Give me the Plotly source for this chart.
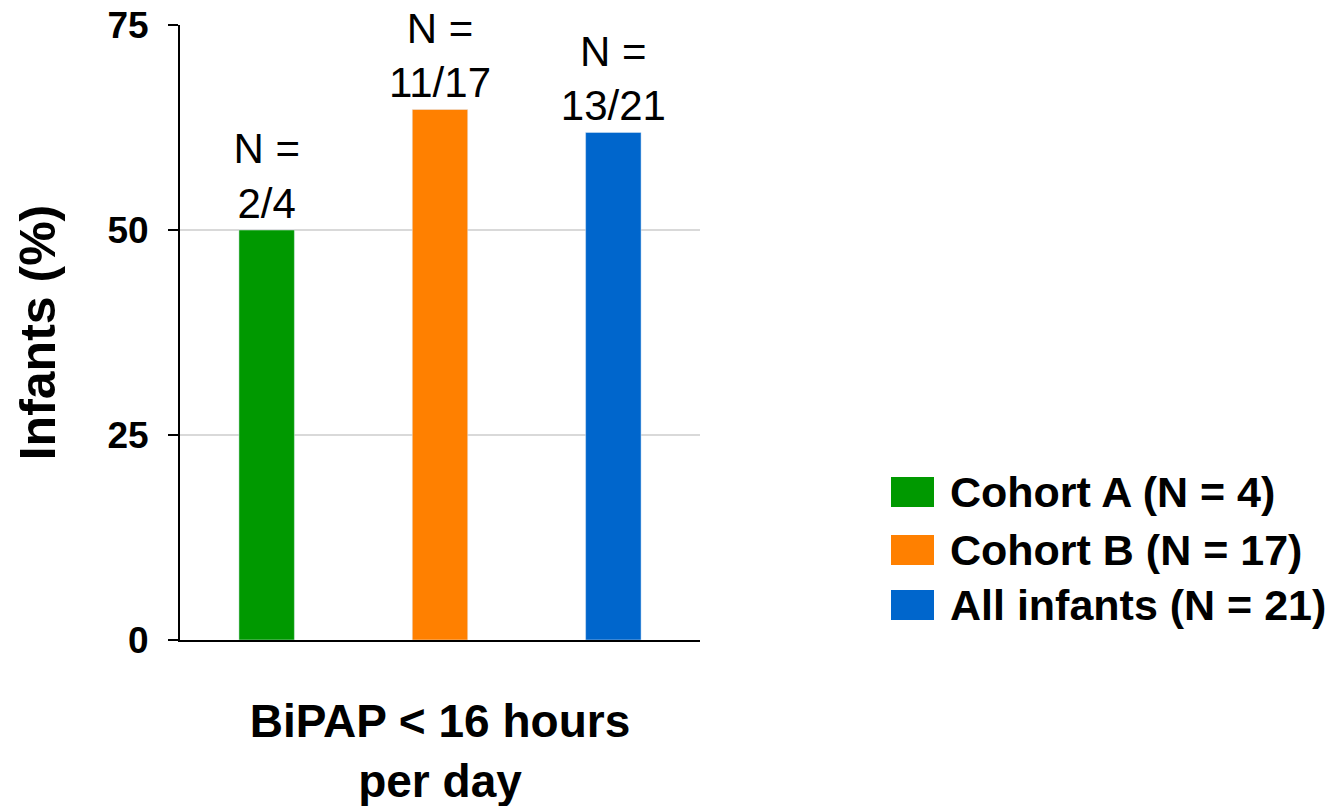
import plotly.graph_objects as go

category = ["BiPAP < 16 hours<br>per day"]
series_names = ["Cohort A (N = 4)", "Cohort B (N = 17)", "All infants (N = 21)"]
series_values = [50.0, 64.7, 61.9]
series_labels = ["N =<br>2/4", "N =<br>11/17", "N =<br>13/21"]
series_colors = ["#009900", "#FF8000", "#0066CC"]
y_ticks = [0, 25, 50, 75]

FONT = "Liberation Sans, Arial, sans-serif"

fig = go.Figure()
for name, val, lab, col in zip(series_names, series_values, series_labels, series_colors):
    fig.add_trace(go.Bar(
        x=category, y=[val], name=name, marker_color=col,
        text=[lab], textposition="outside", constraintext="none",
        textfont=dict(family=FONT, size=42, color="black"),
        cliponaxis=False, showlegend=False,
    ))

# manual legend (large swatches)
leg_y = [492, 550, 605]
for name, col, yc in zip(series_names, series_colors, leg_y):
    fig.add_shape(type="rect", xref="paper", yref="paper",
                  x0=(891 - 180) / 520, x1=(934 - 180) / 520,
                  y0=(640 - (yc + 15)) / 615, y1=(640 - (yc - 15)) / 615,
                  fillcolor=col, line=dict(width=0))
    fig.add_annotation(xref="paper", yref="paper",
                       x=(948 - 180) / 520, y=(640 - yc) / 615,
                       text=name, showarrow=False, xanchor="left", yanchor="middle",
                       font=dict(family=FONT, size=43, color="black", weight="bold"))

fig.update_layout(
    width=1329, height=806,
    margin=dict(l=180, r=629, t=25, b=166),
    paper_bgcolor="white", plot_bgcolor="white",
    barmode="group", bargap=0, bargroupgap=0.68,
    font=dict(family=FONT, color="black"),
)
fig.update_yaxes(
    range=[0, 75], tickvals=y_ticks, ticktext=[str(v) for v in y_ticks],
    showgrid=True, gridcolor="#D9D9D9", gridwidth=2,
    showline=True, linecolor="black", linewidth=2,
    ticks="outside", ticklen=10, tickwidth=2, tickcolor="black",
    ticklabelstandoff=12,
    tickfont=dict(family=FONT, size=37, color="black", weight="bold"),
    title=dict(text="Infants (%)", font=dict(family=FONT, size=50, color="black", weight="bold"),
               standoff=36),
    zeroline=False, automargin=False,
)
fig.update_xaxes(
    showline=True, linecolor="black", linewidth=2, ticks="",
    ticklabelstandoff=40,
    tickfont=dict(family=FONT, size=46, color="black", weight="bold"),
    automargin=False,
)

fig.write_html("out.html")
